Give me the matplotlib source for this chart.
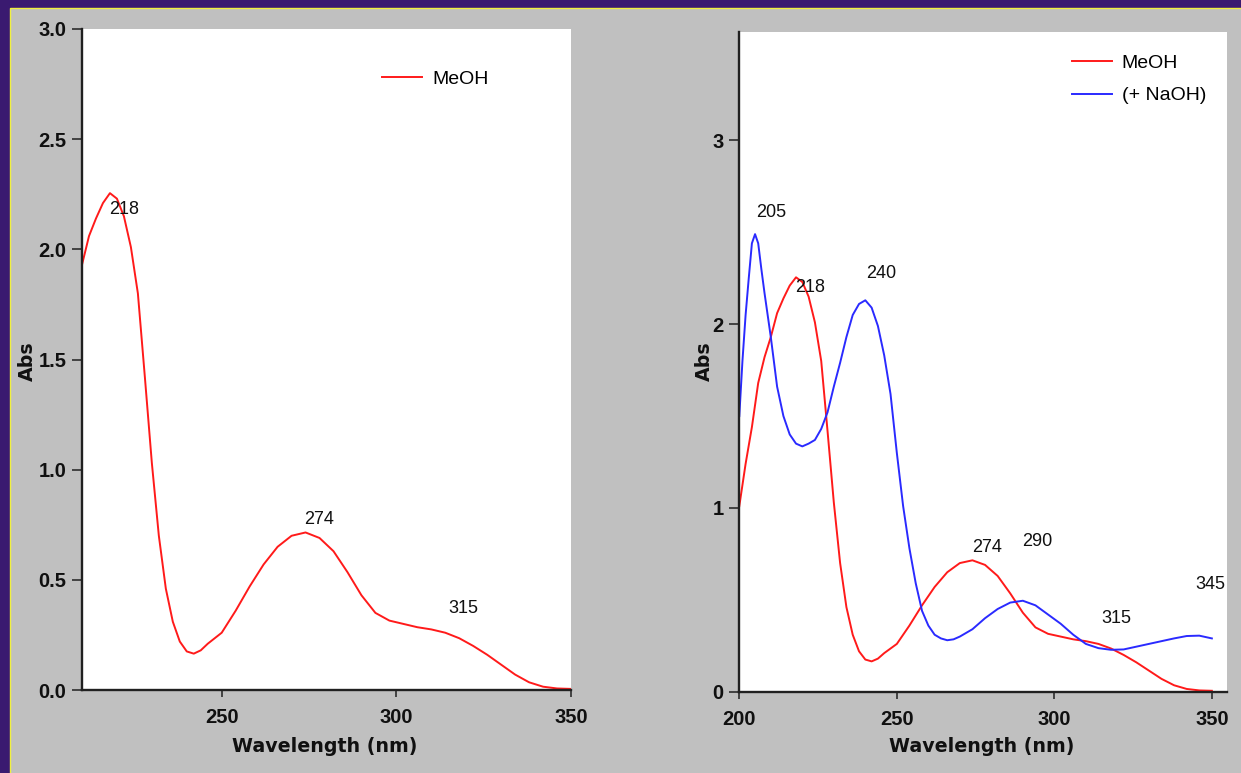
import matplotlib
matplotlib.use("Agg")
import matplotlib.pyplot as plt
from matplotlib.patches import Rectangle
from matplotlib.ticker import FormatStrFormatter

# ---------------- data ----------------
meoh_wl = [200, 202, 204, 206, 208, 210, 212, 214, 216, 218, 220, 222, 224, 226, 228,
           230, 232, 234, 236, 238, 240, 242, 244, 246, 248, 250, 254, 258, 262, 266,
           270, 274, 278, 282, 286, 290, 294, 298, 302, 306, 310, 314, 318, 322, 326,
           330, 334, 338, 342, 346, 350]
meoh_abs = [1.01, 1.24, 1.44, 1.68, 1.82, 1.93, 2.06, 2.14, 2.21, 2.255, 2.23, 2.15, 2.01,
            1.80, 1.42, 1.03, 0.70, 0.46, 0.31, 0.22, 0.175, 0.165, 0.18, 0.21, 0.235,
            0.26, 0.36, 0.47, 0.57, 0.65, 0.70, 0.715, 0.69, 0.63, 0.535, 0.43, 0.35,
            0.315, 0.30, 0.285, 0.275, 0.26, 0.235, 0.20, 0.16, 0.115, 0.07, 0.035,
            0.015, 0.007, 0.005]

naoh_wl = [200, 201, 202, 203, 204, 205, 206, 207, 208, 210, 212, 214, 216, 218, 220,
           222, 224, 226, 228, 230, 232, 234, 236, 238, 240, 242, 244, 246, 248, 250,
           252, 254, 256, 258, 260, 262, 264, 266, 268, 270, 274, 278, 282, 286, 290,
           294, 298, 302, 306, 310, 314, 318, 322, 326, 330, 334, 338, 342, 346, 350]
naoh_abs = [1.50, 1.80, 2.05, 2.25, 2.44, 2.49, 2.44, 2.30, 2.17, 1.93, 1.66, 1.50, 1.40,
            1.35, 1.335, 1.35, 1.37, 1.43, 1.52, 1.66, 1.79, 1.93, 2.05, 2.11, 2.13,
            2.09, 1.99, 1.83, 1.62, 1.30, 1.01, 0.78, 0.59, 0.44, 0.36, 0.31, 0.29,
            0.28, 0.285, 0.30, 0.34, 0.40, 0.45, 0.485, 0.495, 0.47, 0.42, 0.37, 0.31,
            0.26, 0.237, 0.228, 0.23, 0.245, 0.26, 0.275, 0.29, 0.303, 0.305, 0.29]

left_xticks = [250, 300, 350]
left_yticks = [0.0, 0.5, 1.0, 1.5, 2.0, 2.5, 3.0]
right_xticks = [200, 250, 300, 350]
right_yticks = [0, 1, 2, 3]

left_peaks = [("218", 217.7, 2.18), ("274", 273.5, 0.772), ("315", 315.0, 0.372)]
right_peaks = [("205", 205.2, 2.61), ("218", 217.7, 2.20), ("240", 240.2, 2.274),
               ("274", 273.9, 0.782), ("290", 289.7, 0.815), ("315", 314.8, 0.396),
               ("345", 344.7, 0.586)]

# ---------------- figure ----------------
W, H = 1241, 773
fig = plt.figure(figsize=(W / 100, H / 100), dpi=100, facecolor="#3a1a70")

panel = Rectangle((10 / W, -0.05), 1.2, (H - 7.5) / H + 0.05, transform=fig.transFigure,
                  facecolor="#c0c0c0", edgecolor="#f0f040", linewidth=1.0, zorder=-10)
fig.patches.append(panel)

tick_font = dict(family="Liberation Sans", weight="bold", size=14.5)
lab_font = dict(family="DejaVu Sans", weight="bold", size=13.7)
ann_font = dict(family="Liberation Sans", size=13)
leg_font = dict(family="Liberation Sans", size=14)


def style_axes(ax):
    ax.set_zorder(5)
    ax.set_facecolor("white")
    for s in ("top", "right"):
        ax.spines[s].set_visible(False)
    for s in ("left", "bottom"):
        ax.spines[s].set_linewidth(1.7)
        ax.spines[s].set_color("#202020")
    ax.tick_params(axis="y", direction="out", length=7.2, width=1.1, pad=4, color="#202020")
    ax.tick_params(axis="x", direction="out", length=5, width=1.1, pad=8, color="#202020")
    for lab in ax.get_xticklabels() + ax.get_yticklabels():
        lab.set_fontfamily(tick_font["family"])
        lab.set_fontweight(tick_font["weight"])
        lab.set_fontsize(tick_font["size"])
        lab.set_color("#101010")


# left axes
axL = fig.add_axes([82 / W, 1 - 690 / H, (571 - 82) / W, (690 - 29) / H])
axL.plot(meoh_wl, meoh_abs, color="#ff1a1a", lw=1.4, label="MeOH")
axL.set_xlim(210, 350)
axL.set_ylim(0, 3.0)
axL.set_xticks(left_xticks)
axL.set_yticks(left_yticks)
axL.yaxis.set_major_formatter(FormatStrFormatter("%.1f"))
style_axes(axL)
for t, x, y in left_peaks:
    axL.text(x, y, t, ha="left", va="center", color="#101010", **ann_font)
axL.legend(loc="center left", bbox_to_anchor=(382 / W, 1 - 79 / H),
           bbox_transform=fig.transFigure, frameon=False, prop=leg_font,
           handlelength=2.05, handletextpad=0.55, borderpad=0, borderaxespad=0)

# right axes
axR = fig.add_axes([739.3 / W, 1 - 691.7 / H, (1227 - 739.3) / W, (691.7 - 32) / H])
axR.plot(meoh_wl, meoh_abs, color="#ff1a1a", lw=1.4, label="MeOH")
axR.plot(naoh_wl, naoh_abs, color="#2a2aff", lw=1.4, label="(+ NaOH)")
axR.set_xlim(200, 354.8)
axR.set_ylim(0, 3.59)
axR.set_xticks(right_xticks)
axR.set_yticks(right_yticks)
style_axes(axR)
for t, x, y in right_peaks:
    axR.text(x, y, t, ha="left", va="center", color="#101010", **ann_font)
axR.legend(loc="center left", bbox_to_anchor=(1072 / W, 1 - 79.5 / H),
           bbox_transform=fig.transFigure, frameon=False, prop=leg_font,
           handlelength=2.05, handletextpad=0.5, borderpad=0, borderaxespad=0,
           labelspacing=0.75)

# axis labels
fig.text(324.5 / W, 1 - 746 / H, "Wavelength (nm)", ha="center", va="center", color="#101010", **lab_font)
fig.text(982 / W, 1 - 747 / H, "Wavelength (nm)", ha="center", va="center", color="#101010", **lab_font)
fig.text(27 / W, 1 - 361 / H, "Abs", ha="center", va="center", rotation=90, color="#101010", **lab_font)
fig.text(704 / W, 1 - 361 / H, "Abs", ha="center", va="center", rotation=90, color="#101010", **lab_font)

fig.savefig("out.png", dpi=100, facecolor=fig.get_facecolor())
